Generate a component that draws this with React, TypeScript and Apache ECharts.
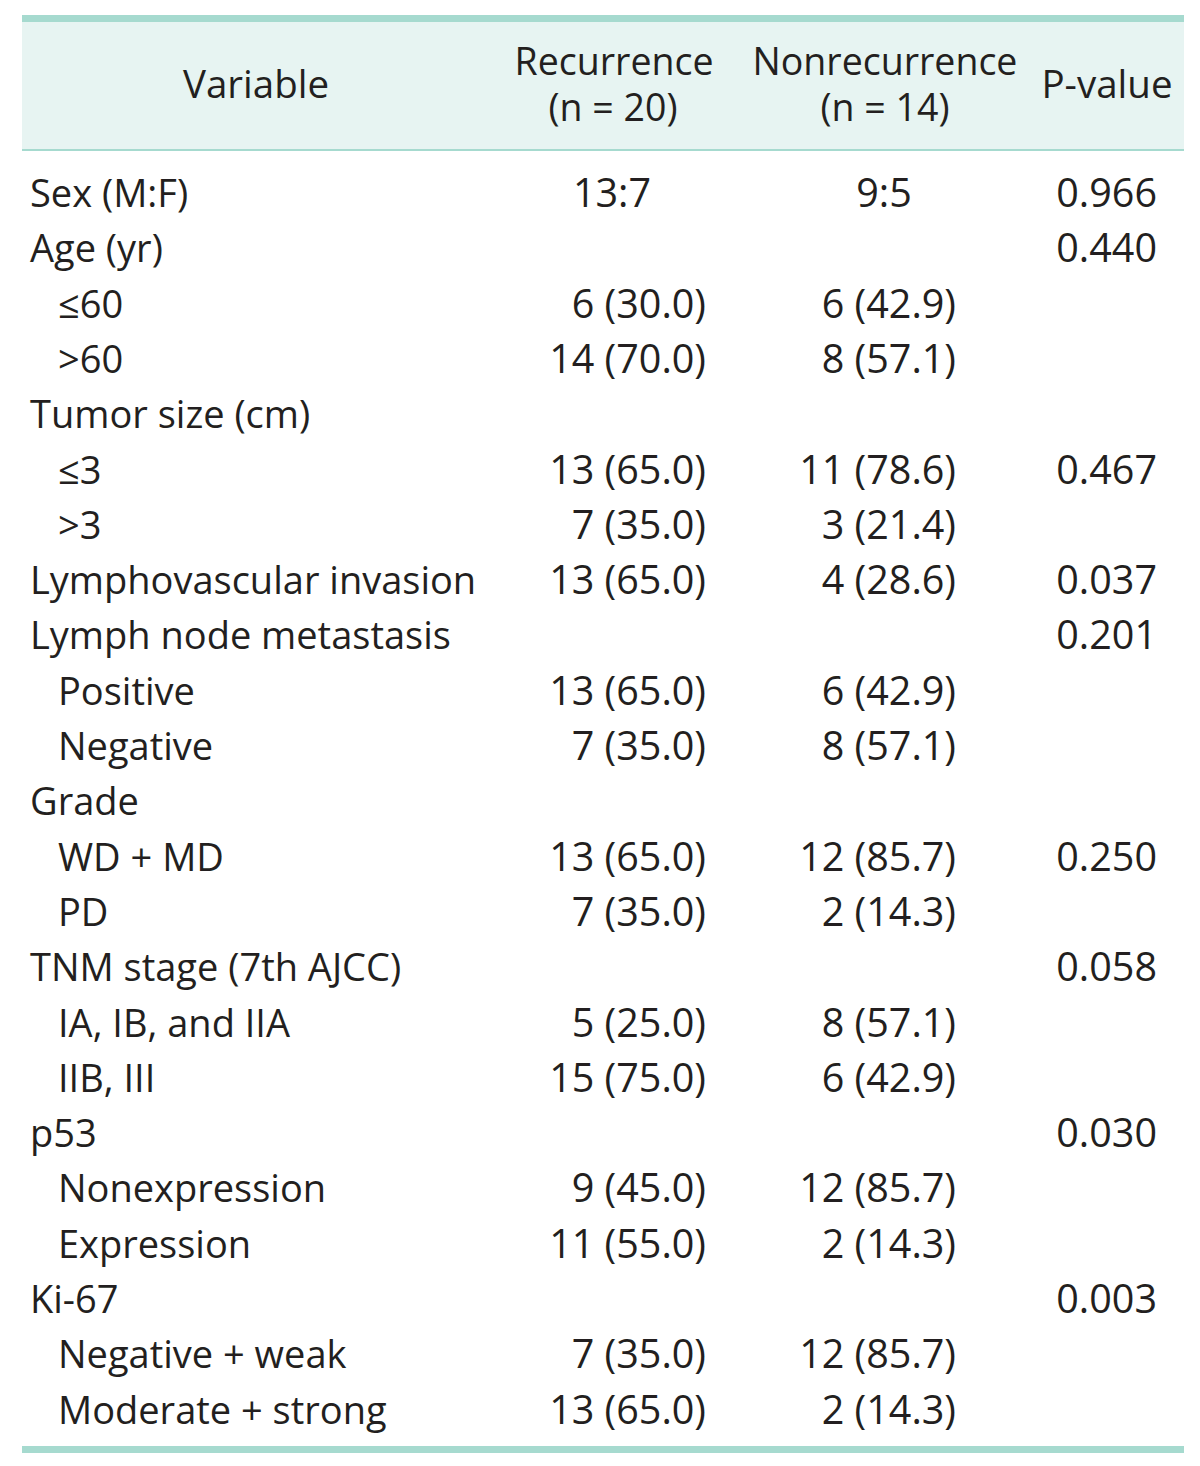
import React, { useEffect, useRef } from "react";
import * as echarts from "echarts";

const headerVariable = "Variable";
const headerGroups = ["Recurrence", "Nonrecurrence"];
const headerCounts = ["(n = 20)", "(n = 14)"];
const headerP = "P-value";

const variables = [
  "Sex (M:F)", "Age (yr)", "≤60", ">60", "Tumor size (cm)", "≤3", ">3",
  "Lymphovascular invasion", "Lymph node metastasis", "Positive", "Negative",
  "Grade", "WD + MD", "PD", "TNM stage (7th AJCC)", "IA, IB, and IIA", "IIB, III",
  "p53", "Nonexpression", "Expression", "Ki-67", "Negative + weak", "Moderate + strong",
];
const indented = [
  false, false, true, true, false, true, true,
  false, false, true, true,
  false, true, true, false, true, true,
  false, true, true, false, true, true,
];
const recurrence = [
  "13:7", "", "6 (30.0)", "14 (70.0)", "", "13 (65.0)", "7 (35.0)",
  "13 (65.0)", "", "13 (65.0)", "7 (35.0)",
  "", "13 (65.0)", "7 (35.0)", "", "5 (25.0)", "15 (75.0)",
  "", "9 (45.0)", "11 (55.0)", "", "7 (35.0)", "13 (65.0)",
];
const nonrecurrence = [
  "9:5", "", "6 (42.9)", "8 (57.1)", "", "11 (78.6)", "3 (21.4)",
  "4 (28.6)", "", "6 (42.9)", "8 (57.1)",
  "", "12 (85.7)", "2 (14.3)", "", "8 (57.1)", "6 (42.9)",
  "", "12 (85.7)", "2 (14.3)", "", "12 (85.7)", "2 (14.3)",
];
const pValues = [
  "0.966", "0.440", "", "", "", "0.467", "",
  "0.037", "0.201", "", "",
  "", "0.250", "", "0.058", "", "",
  "0.030", "", "", "0.003", "", "",
];

const FONT = "'Open Sans', Lato, sans-serif";
const FS_LABEL = 38;
const FS_NUM = 39.5;
const FS_HEAD = 38.5;
const FS_GROUP = 37.5;
const COLOR = "#231f20";
const TEAL = "#a6dacf";
const FILL = "#e7f4f2";

export default function App() {
  const ref = useRef<HTMLDivElement>(null);
  useEffect(() => {
    if (!ref.current) return;
    const chart = echarts.init(ref.current, null, { renderer: "svg" });
    const left = 22, right = 1184;
    const rowTop = 192, rowStep = 55.3;
    const colVarX = 30, colIndentX = 58;
    const colRecRight = 706, colNonRight = 956, colPRight = 1157;
    const colRecCenter = 612, colNonCenter = 884;

    const els: any[] = [];
    els.push({ type: "rect", shape: { x: left, y: 22, width: right - left, height: 128 }, style: { fill: FILL }, silent: true });
    els.push({ type: "rect", shape: { x: left, y: 15, width: right - left, height: 7 }, style: { fill: TEAL } });
    els.push({ type: "rect", shape: { x: left, y: 149, width: right - left, height: 2 }, style: { fill: TEAL } });
    els.push({ type: "rect", shape: { x: left, y: 1446, width: right - left, height: 7 }, style: { fill: TEAL } });

    const txt = (s: string, x: number, y: number, align: string, fs: number) => ({
      type: "text",
      x, y,
      style: { text: s, fill: COLOR, font: `${fs}px ${FONT}`, textAlign: align, textVerticalAlign: "middle" },
    });

    els.push(txt(headerVariable, 256, 83, "center", FS_HEAD));
    els.push(txt(headerGroups[0], 614, 60, "center", FS_GROUP));
    els.push(txt(headerCounts[0], 613, 106.5, "center", FS_GROUP));
    els.push(txt(headerGroups[1], 885, 60, "center", FS_GROUP));
    els.push(txt(headerCounts[1], 885, 106.5, "center", FS_GROUP));
    els.push(txt(headerP, 1107, 83, "center", FS_HEAD));

    variables.forEach((v, i) => {
      const y = rowTop + i * rowStep;
      els.push(txt(v, indented[i] ? colIndentX : colVarX, y, "left", FS_LABEL));
      const r = recurrence[i], n = nonrecurrence[i], p = pValues[i];
      if (r) els.push(r.includes(":") ? txt(r, colRecCenter, y, "center", FS_NUM) : txt(r, colRecRight, y, "right", FS_NUM));
      if (n) els.push(n.includes(":") ? txt(n, colNonCenter, y, "center", FS_NUM) : txt(n, colNonRight, y, "right", FS_NUM));
      if (p) els.push(txt(p, colPRight, y, "right", FS_NUM));
    });

    chart.setOption({ animation: false, backgroundColor: "#ffffff", graphic: { elements: els } });
    return () => chart.dispose();
  }, []);
  return <div ref={ref} style={{ position: "absolute", left: 0, top: 0, width: 1200, height: 1466 }} />;
}
